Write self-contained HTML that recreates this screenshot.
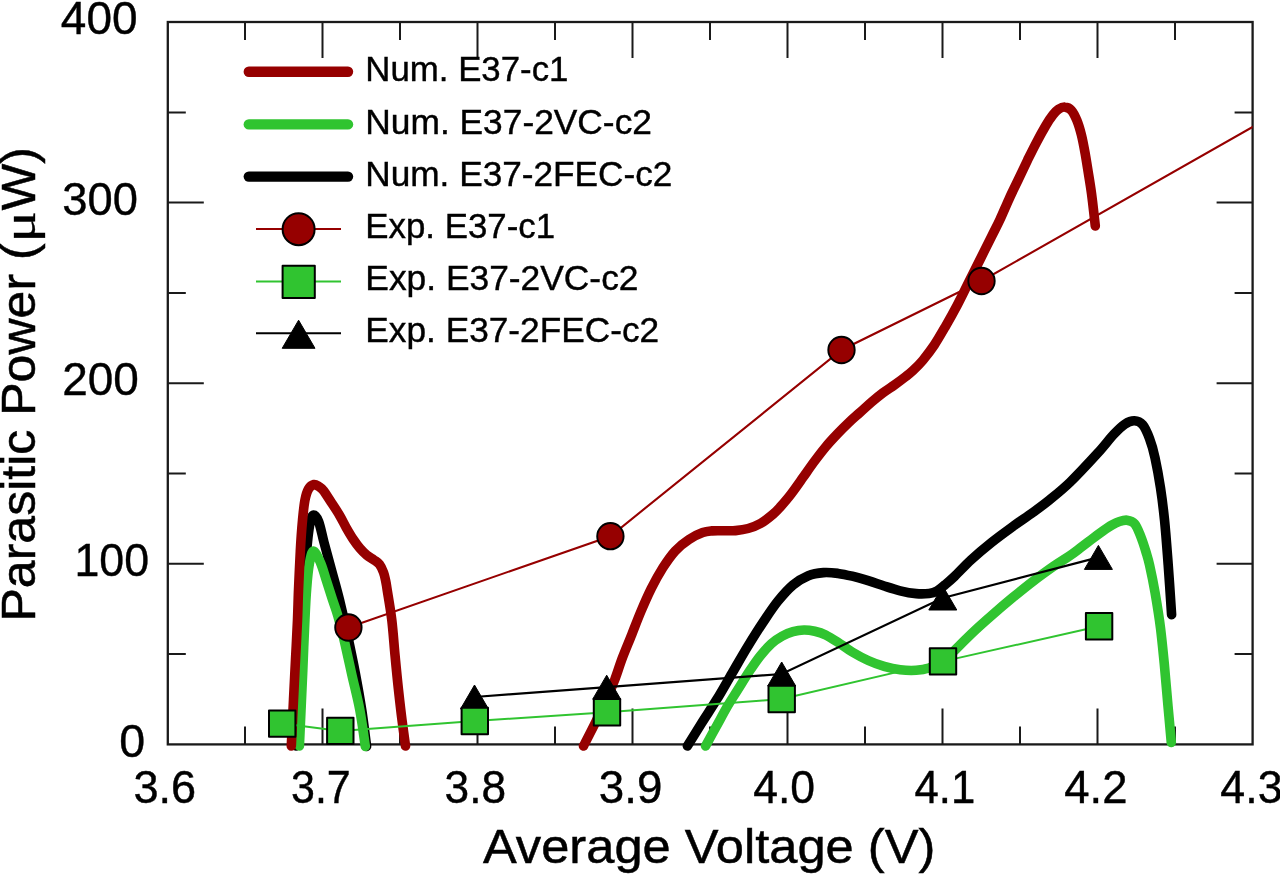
<!DOCTYPE html>
<html lang="en"><head><meta charset="utf-8"><title>Parasitic Power vs Average Voltage</title>
<style>html,body{margin:0;padding:0;background:#fff}body{width:1280px;height:874px;overflow:hidden}svg{display:block;filter:blur(0.55px)}text{font-family:"Liberation Sans",Arial,Helvetica,sans-serif;fill:#000}.mu{font-family:"Liberation Serif","DejaVu Serif",serif}</style></head><body>
<svg width="1280" height="874" viewBox="0 0 1280 874">
<rect width="1280" height="874" fill="#fff"/>
<defs><clipPath id="cp"><rect x="167.8" y="22.0" width="1084.8" height="722.4"/></clipPath></defs>
<g stroke="#1a1a1a" stroke-width="2.3" fill="none" stroke-linecap="butt">
<rect x="167.8" y="22.0" width="1084.8" height="722.4"/>
</g>
<g stroke="#1a1a1a" stroke-width="2" fill="none">
<path d="M245.0 22.0 v18 M245.0 744.4 v-18 M322.5 22.0 v36 M322.5 744.4 v-36 M400.0 22.0 v18 M400.0 744.4 v-18 M477.5 22.0 v36 M477.5 744.4 v-36 M555.0 22.0 v18 M555.0 744.4 v-18 M632.5 22.0 v36 M632.5 744.4 v-36 M710.0 22.0 v18 M710.0 744.4 v-18 M787.5 22.0 v36 M787.5 744.4 v-36 M865.0 22.0 v18 M865.0 744.4 v-18 M942.5 22.0 v36 M942.5 744.4 v-36 M1020.0 22.0 v18 M1020.0 744.4 v-18 M1097.5 22.0 v36 M1097.5 744.4 v-36 M1175.0 22.0 v18 M1175.0 744.4 v-18 M167.8 654.0 h18 M1252.6 654.0 h-18 M167.8 563.8 h36 M1252.6 563.8 h-36 M167.8 473.5 h18 M1252.6 473.5 h-18 M167.8 383.2 h36 M1252.6 383.2 h-36 M167.8 292.9 h18 M1252.6 292.9 h-18 M167.8 202.6 h36 M1252.6 202.6 h-36 M167.8 112.4 h18 M1252.6 112.4 h-18"/>
</g>
<g fill="none" stroke-width="9.6" stroke-linecap="round" stroke-linejoin="round">
<path stroke="#000000" d="M296.0 746.0 C296.5 735.0 298.0 701.0 299.0 680.0 C300.0 659.0 301.0 638.3 302.0 620.0 C303.0 601.7 304.0 583.8 305.0 570.0 C306.0 556.2 307.1 545.0 308.0 537.0 C308.9 529.0 309.4 525.7 310.3 522.0 C311.2 518.3 312.1 515.1 313.5 515.0 C314.9 514.9 316.9 516.9 318.6 521.5 C320.4 526.1 321.9 534.4 324.0 542.4 C326.1 550.4 328.8 560.2 331.4 569.8 C334.0 579.4 336.8 588.9 339.5 600.0 C342.2 611.1 345.2 624.4 347.8 636.6 C350.4 648.8 353.0 661.0 355.3 673.2 C357.6 685.4 359.8 697.6 361.7 709.8 C363.6 722.0 365.8 740.3 366.6 746.4"/>
<path stroke="#000000" d="M687.4 746.0 C689.8 742.2 696.8 730.8 701.7 723.0 C706.6 715.2 711.9 707.4 717.0 699.1 C722.1 690.8 727.1 681.7 732.2 673.0 C737.3 664.3 742.3 655.3 747.4 647.0 C752.5 638.7 757.5 630.6 762.6 623.0 C767.7 615.4 772.7 607.6 777.8 601.3 C782.9 595.0 787.9 589.3 793.0 585.0 C798.1 580.7 803.2 577.8 808.3 575.7 C813.4 573.6 818.5 573.0 823.5 572.6 C828.5 572.2 833.2 572.8 838.0 573.4 C842.8 574.0 847.2 575.0 852.2 576.2 C857.2 577.4 862.9 579.1 868.2 580.7 C873.5 582.3 878.9 584.3 884.2 586.0 C889.5 587.7 894.9 589.5 900.2 590.8 C905.5 592.1 911.4 593.2 916.2 593.6 C921.0 594.0 925.6 593.8 929.1 593.4 C932.6 593.0 934.4 592.4 937.0 591.0 C939.6 589.6 942.0 587.3 945.0 584.8 C948.0 582.3 950.3 580.4 954.7 576.2 C959.1 572.0 965.0 565.4 971.2 559.7 C977.4 554.0 984.9 547.7 991.8 542.2 C998.7 536.7 1005.5 531.8 1012.4 526.8 C1019.3 521.8 1026.8 516.9 1033.0 512.4 C1039.2 507.9 1043.2 505.0 1049.4 500.0 C1055.6 495.0 1061.9 490.1 1069.9 482.4 C1077.9 474.7 1090.0 461.6 1097.3 453.6 C1104.6 445.6 1109.2 439.2 1113.8 434.3 C1118.4 429.4 1121.4 426.4 1124.8 424.2 C1128.2 421.9 1131.4 420.7 1134.4 420.8 C1137.4 420.9 1140.1 421.8 1142.6 424.7 C1145.1 427.6 1147.4 433.0 1149.5 438.5 C1151.6 444.0 1153.2 449.5 1155.0 457.7 C1156.8 465.9 1158.9 477.4 1160.5 487.9 C1162.1 498.4 1163.3 508.0 1164.6 520.8 C1165.9 533.6 1167.0 549.2 1168.2 564.8 C1169.4 580.4 1171.0 606.3 1171.6 614.6"/>
<path stroke="#30c430" d="M299.4 746.0 C299.7 740.0 300.4 722.7 301.0 710.0 C301.6 697.3 302.2 685.0 302.8 670.0 C303.4 655.0 304.2 633.7 304.9 620.0 C305.5 606.3 305.9 597.4 306.7 588.0 C307.4 578.6 308.3 569.7 309.4 563.5 C310.5 557.3 311.7 551.2 313.5 551.0 C315.3 550.8 318.3 557.8 320.4 562.5 C322.5 567.2 323.9 572.9 325.9 579.0 C327.9 585.1 330.3 592.9 332.3 599.0 C334.3 605.1 336.0 609.3 337.8 615.6 C339.6 621.9 341.0 627.0 343.3 636.6 C345.6 646.2 348.8 661.0 351.5 673.2 C354.2 685.4 357.5 697.6 359.8 709.8 C362.1 722.0 364.4 740.3 365.3 746.4"/>
<path stroke="#30c430" d="M705.6 746.0 C707.5 742.5 713.3 731.9 717.0 725.2 C720.7 718.5 724.2 711.9 727.8 705.7 C731.4 699.6 735.1 694.1 738.7 688.3 C742.3 682.5 746.0 676.3 749.6 670.9 C753.2 665.5 756.8 660.2 760.4 655.7 C764.0 651.2 767.7 647.0 771.3 643.7 C774.9 640.4 778.6 638.1 782.2 636.1 C785.8 634.1 789.4 632.7 793.0 631.7 C796.6 630.7 800.3 630.1 803.9 630.0 C807.5 629.9 811.2 630.5 814.8 631.3 C818.4 632.1 821.5 632.9 825.7 635.0 C829.9 637.1 835.6 640.9 840.0 643.7 C844.4 646.5 847.5 649.2 852.2 652.0 C856.9 654.8 862.9 658.1 868.2 660.5 C873.5 662.9 878.9 664.9 884.2 666.4 C889.5 667.9 894.9 669.1 900.2 669.8 C905.5 670.4 911.4 670.6 916.2 670.3 C921.0 670.0 924.7 669.4 929.0 668.0 C933.3 666.6 937.3 665.3 941.9 662.0 C946.5 658.7 951.9 653.0 956.8 648.3 C961.7 643.6 965.4 639.4 971.2 633.9 C977.0 628.4 984.9 621.3 991.8 615.3 C998.7 609.3 1005.5 603.5 1012.4 597.8 C1019.3 592.1 1026.1 586.5 1033.0 581.3 C1039.9 576.0 1047.6 570.5 1053.6 566.3 C1059.6 562.1 1064.6 559.3 1069.0 556.3 C1073.4 553.3 1076.3 551.0 1080.0 548.2 C1083.7 545.4 1087.6 542.4 1091.4 539.5 C1095.2 536.6 1099.5 533.4 1102.9 531.0 C1106.3 528.6 1109.2 526.6 1112.0 525.0 C1114.8 523.4 1117.0 522.3 1119.5 521.5 C1122.0 520.7 1124.5 519.9 1127.0 520.2 C1129.5 520.6 1132.3 521.1 1134.5 523.6 C1136.7 526.1 1138.3 530.3 1140.2 535.0 C1142.1 539.7 1144.5 547.0 1146.0 552.0 C1147.5 557.0 1148.0 558.1 1149.5 564.8 C1151.0 571.5 1153.2 581.8 1155.0 592.3 C1156.8 602.8 1159.0 616.0 1160.5 628.0 C1162.0 640.0 1163.0 651.0 1164.3 664.0 C1165.5 677.0 1166.8 693.0 1168.0 706.1 C1169.2 719.2 1170.8 736.4 1171.3 742.5"/>
<path stroke="#960000" d="M291.3 746.0 C291.7 738.3 292.8 714.3 293.5 700.0 C294.2 685.7 294.8 673.3 295.5 660.0 C296.2 646.7 297.0 632.0 297.5 620.0 C298.0 608.0 298.1 599.4 298.6 588.0 C299.1 576.6 299.7 562.8 300.3 551.5 C300.9 540.2 301.7 528.9 302.5 520.4 C303.3 511.9 303.9 505.5 304.9 500.3 C305.9 495.1 307.0 491.6 308.5 489.0 C310.0 486.4 312.3 484.9 314.0 484.5 C315.7 484.1 316.9 485.3 318.5 486.3 C320.1 487.3 321.2 487.8 323.4 490.5 C325.5 493.2 328.7 498.5 331.4 502.6 C334.1 506.7 337.0 511.0 339.5 515.2 C342.0 519.4 344.0 523.8 346.3 527.8 C348.6 531.8 350.9 535.8 353.2 539.2 C355.5 542.6 357.7 545.7 360.0 548.4 C362.3 551.1 364.6 553.3 366.9 555.2 C369.2 557.1 371.7 558.3 373.8 559.8 C375.9 561.3 377.9 562.3 379.5 564.4 C381.1 566.5 382.4 569.5 383.5 572.4 C384.6 575.2 385.2 578.6 385.8 581.5 C386.4 584.4 386.2 583.6 387.2 590.0 C388.2 596.4 390.5 609.2 391.8 620.0 C393.1 630.8 393.9 643.3 395.0 655.0 C396.1 666.7 397.3 679.2 398.5 690.0 C399.7 700.8 400.8 710.7 402.0 720.0 C403.2 729.3 404.9 741.7 405.5 746.0"/>
<path stroke="#960000" d="M583.5 746.0 C585.5 742.0 591.7 730.2 595.7 722.0 C599.7 713.8 604.5 703.5 607.6 696.5 C610.8 689.5 612.1 686.6 614.6 680.1 C617.1 673.6 619.7 664.9 622.6 657.3 C625.5 649.7 628.8 642.0 631.8 634.4 C634.8 626.8 637.7 619.1 640.9 611.5 C644.1 603.9 647.6 595.9 651.2 588.6 C654.8 581.4 658.7 574.3 662.7 568.0 C666.7 561.7 670.8 555.7 675.2 550.9 C679.6 546.1 684.4 542.4 689.0 539.4 C693.6 536.4 698.9 534.0 702.7 532.6 C706.5 531.2 708.6 531.2 712.0 530.9 C715.4 530.6 719.0 530.8 722.9 530.7 C726.8 530.7 731.3 531.0 735.5 530.6 C739.7 530.2 743.9 529.7 748.1 528.5 C752.3 527.3 756.5 525.8 760.7 523.4 C764.9 521.0 770.1 516.7 773.3 514.0 C776.5 511.3 777.0 510.7 780.0 507.3 C783.0 503.9 787.6 498.6 791.4 493.6 C795.2 488.7 799.1 483.0 802.9 477.6 C806.7 472.2 810.5 466.6 814.3 461.5 C818.1 456.4 822.0 451.3 825.8 446.7 C829.6 442.1 833.4 438.1 837.2 434.1 C841.0 430.1 844.8 426.3 848.6 422.7 C852.4 419.1 856.3 415.8 860.1 412.4 C863.9 409.0 867.7 405.4 871.5 402.1 C875.3 398.9 879.1 395.8 882.9 392.9 C886.7 390.0 890.6 387.7 894.4 385.0 C898.2 382.3 902.7 378.9 905.8 376.5 C908.9 374.1 910.1 373.2 913.0 370.5 C915.9 367.8 919.4 364.4 922.9 360.2 C926.4 355.9 930.5 350.7 934.3 345.0 C938.1 339.3 942.0 332.4 945.8 325.8 C949.6 319.2 953.4 312.4 957.2 305.2 C961.0 298.0 964.8 290.0 968.6 282.4 C972.4 274.8 976.3 267.1 980.1 259.5 C983.9 251.9 988.2 243.3 991.5 236.6 C994.8 229.9 997.1 225.8 1000.0 219.5 C1002.9 213.2 1006.1 205.5 1009.1 198.9 C1012.1 192.3 1015.2 186.1 1018.3 179.7 C1021.3 173.3 1024.4 166.8 1027.4 160.5 C1030.5 154.2 1033.5 148.0 1036.6 142.2 C1039.6 136.4 1043.0 130.3 1045.7 125.7 C1048.4 121.1 1050.9 117.5 1053.0 114.8 C1055.1 112.1 1056.5 110.6 1058.5 109.3 C1060.5 108.0 1062.8 106.9 1064.9 107.1 C1067.0 107.2 1069.3 108.0 1071.3 110.2 C1073.3 112.4 1075.1 116.1 1076.8 120.2 C1078.5 124.3 1080.0 129.4 1081.4 134.9 C1082.8 140.4 1083.9 146.5 1085.1 153.2 C1086.3 159.9 1087.6 168.4 1088.7 175.1 C1089.8 181.8 1090.7 187.3 1091.5 193.4 C1092.3 199.5 1093.1 206.3 1093.7 211.7 C1094.3 217.1 1095.0 223.6 1095.3 226.0"/>
</g>
<g clip-path="url(#cp)">
<polyline fill="none" stroke="#000000" stroke-width="2.2" points="474.5,697.0 606.7,687.2 781.7,674.0 942.8,598.0 1098.4,557.4"/>
</g>
<polygon fill="#000" stroke="#000" stroke-width="1" stroke-linejoin="miter" points="474.5,685.0 488.5,709.0 460.5,709.0"/>
<polygon fill="#000" stroke="#000" stroke-width="1" stroke-linejoin="miter" points="606.7,675.2 620.7,699.2 592.7,699.2"/>
<polygon fill="#000" stroke="#000" stroke-width="1" stroke-linejoin="miter" points="781.7,662.0 795.7,686.0 767.7,686.0"/>
<polygon fill="#000" stroke="#000" stroke-width="1" stroke-linejoin="miter" points="942.8,586.0 956.8,610.0 928.8,610.0"/>
<polygon fill="#000" stroke="#000" stroke-width="1" stroke-linejoin="miter" points="1098.4,545.4 1112.4,569.4 1084.4,569.4"/>
<polyline fill="none" stroke="#30c430" stroke-width="2" points="282.2,723.6 340.3,730.9 474.8,721.0 607.0,712.3 781.7,699.0 943.0,661.4 1099.1,626.3"/>
<rect x="269.0" y="710.4" width="26.4" height="26.4" fill="#30c430" stroke="#000" stroke-width="2" stroke-linejoin="round"/>
<rect x="327.1" y="717.7" width="26.4" height="26.4" fill="#30c430" stroke="#000" stroke-width="2" stroke-linejoin="round"/>
<rect x="461.6" y="707.8" width="26.4" height="26.4" fill="#30c430" stroke="#000" stroke-width="2" stroke-linejoin="round"/>
<rect x="593.8" y="699.1" width="26.4" height="26.4" fill="#30c430" stroke="#000" stroke-width="2" stroke-linejoin="round"/>
<rect x="768.5" y="685.8" width="26.4" height="26.4" fill="#30c430" stroke="#000" stroke-width="2" stroke-linejoin="round"/>
<rect x="929.8" y="648.2" width="26.4" height="26.4" fill="#30c430" stroke="#000" stroke-width="2" stroke-linejoin="round"/>
<rect x="1085.9" y="613.1" width="26.4" height="26.4" fill="#30c430" stroke="#000" stroke-width="2" stroke-linejoin="round"/>
<g clip-path="url(#cp)">
<polyline fill="none" stroke="#960000" stroke-width="2.1" points="348.4,627.5 610.4,536.2 841.5,350.0 981.5,281.0 1280.0,111.4"/>
</g>
<circle cx="348.4" cy="627.5" r="13.2" fill="#960000" stroke="#000" stroke-width="1.9"/>
<circle cx="610.4" cy="536.2" r="13.2" fill="#960000" stroke="#000" stroke-width="1.9"/>
<circle cx="841.5" cy="350.0" r="13.2" fill="#960000" stroke="#000" stroke-width="1.9"/>
<circle cx="981.5" cy="281.0" r="13.2" fill="#960000" stroke="#000" stroke-width="1.9"/>
<line x1="248.8" y1="71.8" x2="348" y2="71.8" stroke="#960000" stroke-width="10.4" stroke-linecap="round"/>
<line x1="248.8" y1="124.4" x2="348" y2="124.4" stroke="#30c430" stroke-width="10.4" stroke-linecap="round"/>
<line x1="248.8" y1="176.6" x2="348" y2="176.6" stroke="#000000" stroke-width="10.4" stroke-linecap="round"/>
<line x1="256" y1="229" x2="341" y2="229" stroke="#960000" stroke-width="2"/>
<circle cx="298.6" cy="229.2" r="16" fill="#960000" stroke="#000" stroke-width="2"/>
<line x1="256" y1="281.4" x2="341" y2="281.4" stroke="#30c430" stroke-width="2"/>
<rect x="282.6" y="265.8" width="32.2" height="32.2" fill="#30c430" stroke="#000" stroke-width="2" stroke-linejoin="round"/>
<line x1="256" y1="333.2" x2="341" y2="333.2" stroke="#000000" stroke-width="2.1"/>
<polygon fill="#000" stroke="#000" stroke-width="1" points="298.6,320.2 315.0,348.3 282.2,348.3"/>
<text x="365.35" y="81.3" font-size="34.3" textLength="203.04" lengthAdjust="spacingAndGlyphs" stroke="#000" stroke-width="0.4">Num. E37-c1</text>
<text x="365.30" y="133.6" font-size="34.3" textLength="286.66" lengthAdjust="spacingAndGlyphs" stroke="#000" stroke-width="0.4">Num. E37-2VC-c2</text>
<text x="365.31" y="185.8" font-size="34.3" textLength="307.14" lengthAdjust="spacingAndGlyphs" stroke="#000" stroke-width="0.4">Num. E37-2FEC-c2</text>
<text x="365.34" y="237.6" font-size="34.3" textLength="189.74" lengthAdjust="spacingAndGlyphs" stroke="#000" stroke-width="0.4">Exp. E37-c1</text>
<text x="365.30" y="289.8" font-size="34.3" textLength="273.19" lengthAdjust="spacingAndGlyphs" stroke="#000" stroke-width="0.4">Exp. E37-2VC-c2</text>
<text x="365.31" y="342.0" font-size="34.3" textLength="293.87" lengthAdjust="spacingAndGlyphs" stroke="#000" stroke-width="0.4">Exp. E37-2FEC-c2</text>
<text x="133.49" y="802.9" font-size="45.5" textLength="62.66" lengthAdjust="spacingAndGlyphs" stroke="#000" stroke-width="0.4">3.6</text>
<text x="290.97" y="802.9" font-size="45.5" textLength="59.79" lengthAdjust="spacingAndGlyphs" stroke="#000" stroke-width="0.4">3.7</text>
<text x="444.62" y="802.9" font-size="45.5" textLength="61.49" lengthAdjust="spacingAndGlyphs" stroke="#000" stroke-width="0.4">3.8</text>
<text x="598.86" y="802.9" font-size="45.5" textLength="63.49" lengthAdjust="spacingAndGlyphs" stroke="#000" stroke-width="0.4">3.9</text>
<text x="753.22" y="802.9" font-size="45.5" textLength="61.88" lengthAdjust="spacingAndGlyphs" stroke="#000" stroke-width="0.4">4.0</text>
<text x="914.44" y="802.9" font-size="45.5" textLength="60.77" lengthAdjust="spacingAndGlyphs" stroke="#000" stroke-width="0.4">4.1</text>
<text x="1064.20" y="802.9" font-size="45.5" textLength="63.28" lengthAdjust="spacingAndGlyphs" stroke="#000" stroke-width="0.4">4.2</text>
<text x="1220.32" y="802.9" font-size="45.5" textLength="62.22" lengthAdjust="spacingAndGlyphs" stroke="#000" stroke-width="0.4">4.3</text>
<text x="60.89" y="33.5" font-size="45.5" textLength="76.68" lengthAdjust="spacingAndGlyphs" stroke="#000" stroke-width="0.4">400</text>
<text x="62.28" y="215.0" font-size="45.5" textLength="75.56" lengthAdjust="spacingAndGlyphs" stroke="#000" stroke-width="0.4">300</text>
<text x="62.20" y="395.3" font-size="45.5" textLength="76.67" lengthAdjust="spacingAndGlyphs" stroke="#000" stroke-width="0.4">200</text>
<text x="74.50" y="575.9" font-size="45.5" textLength="74.62" lengthAdjust="spacingAndGlyphs" stroke="#000" stroke-width="0.4">100</text>
<text x="119.38" y="756.5" font-size="45.5" textLength="25.89" lengthAdjust="spacingAndGlyphs" stroke="#000" stroke-width="0.4">0</text>
<text x="483.00" y="862.6" font-size="48.6" textLength="452.33" lengthAdjust="spacingAndGlyphs" stroke="#000" stroke-width="0.5">Average Voltage (V)</text>
<text transform="translate(35.4,0) rotate(-90)" stroke="#000" stroke-width="0.5"><tspan x="-621.50" font-size="48.6" textLength="378.14" lengthAdjust="spacingAndGlyphs">Parasitic Power (</tspan><tspan x="-242.56" font-size="47" textLength="31.52" lengthAdjust="spacingAndGlyphs" class="mu" stroke-width="0.3">μ</tspan><tspan x="-210.60" font-size="48.6" textLength="63.26" lengthAdjust="spacingAndGlyphs">W)</tspan></text>
</svg></body></html>
